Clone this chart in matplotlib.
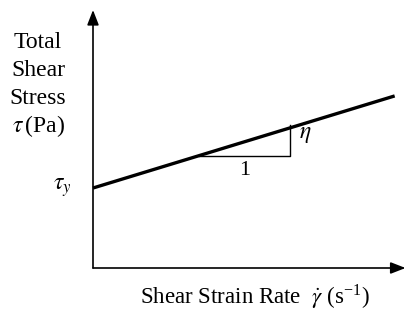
import matplotlib
matplotlib.use("Agg")
import matplotlib.pyplot as plt

plt.rcParams["font.family"] = ["Liberation Serif", "DejaVu Serif"]
plt.rcParams["mathtext.fontset"] = "stix"

# Bingham plastic: tau = tau_y + eta * gamma_dot (schematic units)
tau_y = 3.1
eta = 0.368
gamma = [0.0, 9.7]
tau = [tau_y + eta * g for g in gamma]

# slope triangle
tri_x = [3.4, 6.33]
y_label_lines = ["Total", "Shear", "Stress", r"$\tau\,$(Pa)"]

fig = plt.figure(figsize=(4.04, 3.11), dpi=100)
ax = fig.add_axes([93 / 404, 43 / 311, 311 / 404, 258 / 311])
ax.set_xlim(0, 10)
ax.set_ylim(0, 10)
ax.axis("off")

# axes with arrows
arrow = dict(arrowstyle="-|>,head_length=0.9,head_width=0.35", color="black", lw=1.2, shrinkA=0, shrinkB=0)
ax.annotate("", xy=(0, 10), xytext=(0, 0), arrowprops=arrow, annotation_clip=False)
ax.annotate("", xy=(10.05, 0), xytext=(0, 0), arrowprops=arrow, annotation_clip=False)

ax.plot(gamma, tau, color="black", lw=2.4, solid_capstyle="butt", clip_on=False)

y0 = tau_y + eta * tri_x[0]
y1 = tau_y + eta * tri_x[1]
ax.plot([tri_x[0], tri_x[1], tri_x[1]], [y0, y0, y1 + 0.12], color="black", lw=1.0)
ax.text((tri_x[0] + tri_x[1]) / 2, y0 - 0.2, "1", ha="center", va="top", fontsize=16)
ax.text(tri_x[1] + 0.3, (y0 + y1) / 2 + 0.3, r"$\eta$", ha="left", va="center", fontsize=17)

ax.text(-0.7, tau_y, r"$\tau_y$", ha="right", va="center", fontsize=17)

for i, s in enumerate(y_label_lines):
    fig.text(38 / 404, 1 - (42 + 28 * i) / 311, s, ha="center", va="center", fontsize=17)

fig.text(255 / 404, 1 - 297 / 311, r"Shear Strain Rate  $\dot{\gamma}$ (s$^{\mathregular{-1}}$)",
         ha="center", va="center", fontsize=16.5)

fig.savefig("out.png", dpi=100)
